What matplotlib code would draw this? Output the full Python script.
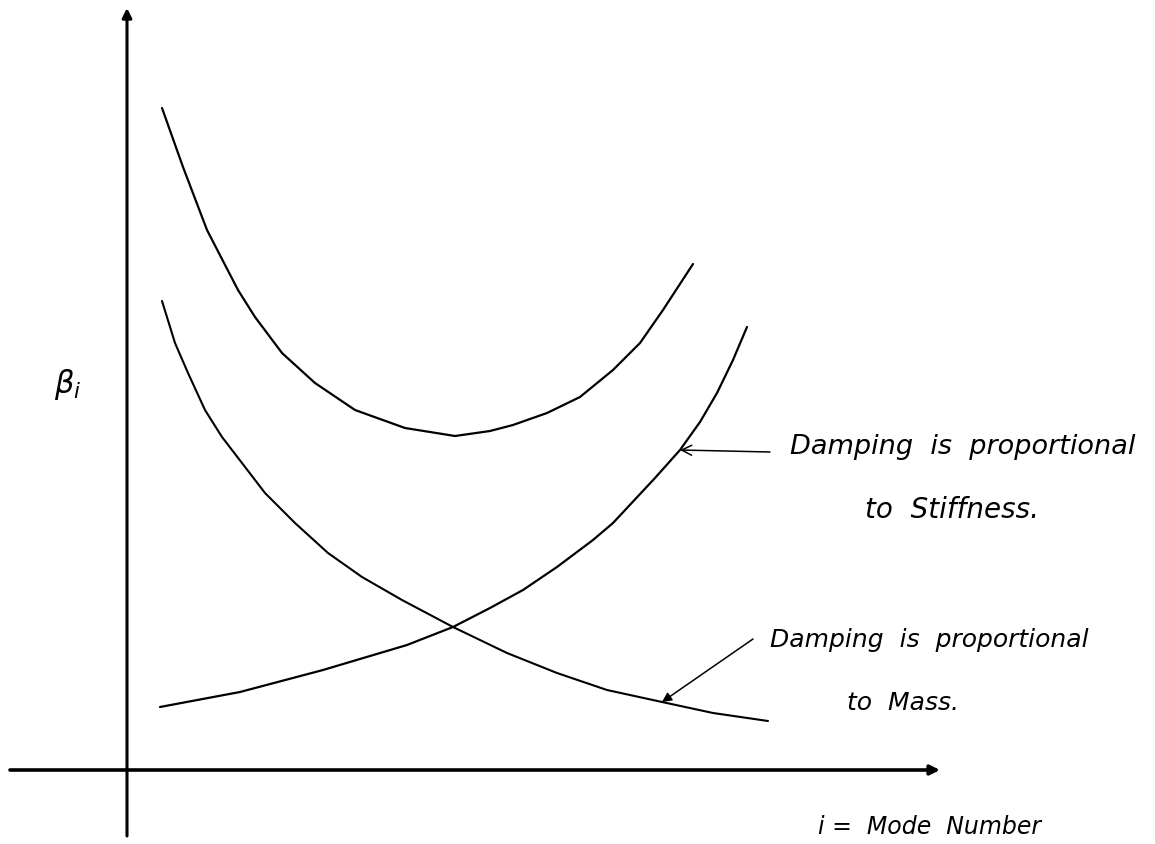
import matplotlib
matplotlib.use("Agg")
import matplotlib.pyplot as plt

# curves (x = mode number, y = beta_i, arbitrary units)
combined_x = [0.35, 0.56, 0.80, 1.11, 1.28, 1.55, 1.88, 2.28, 2.78, 3.28,
              3.63, 3.86, 4.20, 4.53, 4.86, 5.13, 5.36, 5.66]
combined_y = [6.62, 6.03, 5.40, 4.80, 4.53, 4.17, 3.87, 3.60, 3.42, 3.34,
              3.39, 3.45, 3.57, 3.73, 4.00, 4.27, 4.60, 5.06]

mass_x = [0.35, 0.48, 0.61, 0.78, 0.95, 1.15, 1.38, 1.68, 2.01, 2.35, 2.75,
          3.26, 3.80, 4.30, 4.80, 5.35, 5.86, 6.41]
mass_y = [4.69, 4.27, 3.97, 3.60, 3.33, 3.07, 2.77, 2.47, 2.17, 1.93, 1.70,
          1.43, 1.17, 0.97, 0.80, 0.68, 0.57, 0.49]

stiff_x = [0.33, 1.13, 1.96, 2.80, 3.26, 3.63, 3.96, 4.30, 4.66, 4.86,
           5.28, 5.53, 5.73, 5.90, 6.06, 6.20]
stiff_y = [0.63, 0.78, 1.00, 1.25, 1.43, 1.62, 1.80, 2.03, 2.30, 2.47,
           2.92, 3.20, 3.48, 3.77, 4.10, 4.43]

stiff_label = ["Damping  is  proportional", "to  Stiffness."]
mass_label = ["Damping  is  proportional", "to  Mass."]
x_label = "i =  Mode  Number"

fig = plt.figure(figsize=(11.55, 8.44), dpi=100)
ax = fig.add_axes([0, 0, 1, 1])
ax.set_xlim(-1.27, 10.28)
ax.set_ylim(-0.74, 7.70)
ax.axis("off")

# hand drawn axes
ax.annotate("", xy=(0, 7.62), xytext=(0, -0.66),
            arrowprops=dict(arrowstyle="-|>", lw=2.2, color="black",
                            mutation_scale=14, shrinkA=0, shrinkB=0))
ax.annotate("", xy=(8.13, 0), xytext=(-1.17, 0),
            arrowprops=dict(arrowstyle="-|>", lw=2.6, color="black",
                            mutation_scale=14, shrinkA=0, shrinkB=0))

ax.plot(combined_x, combined_y, color="black", lw=1.6,
        solid_capstyle="round", solid_joinstyle="round")
ax.plot(mass_x, mass_y, color="black", lw=1.5,
        solid_capstyle="round", solid_joinstyle="round")
ax.plot(stiff_x, stiff_y, color="black", lw=1.6,
        solid_capstyle="round", solid_joinstyle="round")

txt = dict(family=["DejaVu Sans"], style="italic", fontsize=18,
           color="black", va="center", ha="left")

ax.text(-0.59, 3.85, r"$\beta_i$", fontsize=22, ha="center", va="center")

ax.annotate("", xy=(5.53, 3.20), xytext=(6.43, 3.18),
            arrowprops=dict(arrowstyle="->", lw=1.1, color="black",
                            mutation_scale=18, shrinkA=0, shrinkB=0))
ax.text(6.63, 3.23, stiff_label[0], **dict(txt, fontsize=19.5))
ax.text(7.38, 2.60, stiff_label[1], **dict(txt, fontsize=20))

ax.annotate("", xy=(5.35, 0.68), xytext=(6.26, 1.31),
            arrowprops=dict(arrowstyle="-|>", lw=1.1, color="black",
                            mutation_scale=14, shrinkA=0, shrinkB=0))
ax.text(6.43, 1.30, mass_label[0], **txt)
ax.text(7.20, 0.67, mass_label[1], **txt)

ax.text(6.91, -0.57, x_label, **dict(txt, fontsize=17))

fig.savefig("out.png", dpi=100, facecolor="white")
